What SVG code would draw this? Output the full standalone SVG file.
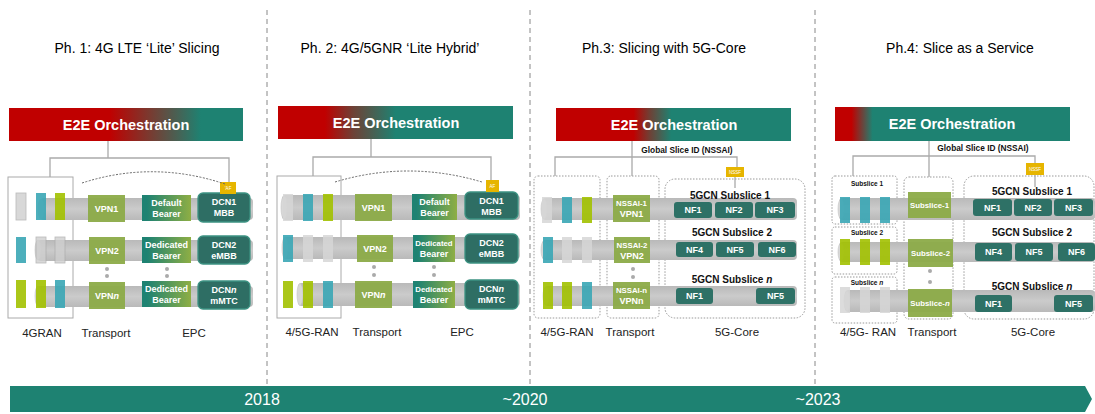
<svg xmlns="http://www.w3.org/2000/svg" width="1095" height="414" viewBox="0 0 1095 414">
<defs>
<linearGradient id="g1" x1="0" x2="1" y1="0" y2="0"><stop offset="0.43" stop-color="#c00000"/><stop offset="0.6" stop-color="#7a3a30"/><stop offset="0.82" stop-color="#1e8272"/></linearGradient>
<linearGradient id="g2" x1="0" x2="1" y1="0" y2="0"><stop offset="0.2" stop-color="#c00000"/><stop offset="0.32" stop-color="#6e4136"/><stop offset="0.5" stop-color="#1e8272"/></linearGradient>
<linearGradient id="g3" x1="0" x2="1" y1="0" y2="0"><stop offset="0.33" stop-color="#c00000"/><stop offset="0.4" stop-color="#6e4136"/><stop offset="0.49" stop-color="#1e8272"/></linearGradient>
<linearGradient id="g4" x1="0" x2="1" y1="0" y2="0"><stop offset="0.07" stop-color="#c00000"/><stop offset="0.16" stop-color="#1e8272"/></linearGradient>
<linearGradient id="bearer" x1="0" x2="1" y1="0" y2="0"><stop offset="0.1" stop-color="#1e8272"/><stop offset="1" stop-color="#8eae44"/></linearGradient>
<linearGradient id="tube" x1="0" x2="0" y1="0" y2="1"><stop offset="0" stop-color="#b9b9b9"/><stop offset="0.5" stop-color="#cbcbcb"/><stop offset="1" stop-color="#b9b9b9"/></linearGradient>
</defs>
<style>
.sep{stroke:#888;stroke-width:1;stroke-dasharray:5,4;fill:none}
.title{font-family:"Liberation Sans",Arial,sans-serif;font-size:14px;fill:#000;text-anchor:middle}
.e2e{font-family:"Liberation Sans",Arial,sans-serif;font-size:14.5px;font-weight:bold;fill:#fff;text-anchor:middle}
.ln{stroke:#aaa;stroke-width:1.3;fill:none}
.box{stroke:#aaa;stroke-width:1;fill:none}
.dbox{stroke:#999;stroke-width:1;stroke-dasharray:1.5,1.5;fill:none}
.arc{stroke:#666;stroke-width:1;stroke-dasharray:2,1.5;fill:none}
.tube{fill:url(#tube)}
.cap{fill:#d8d8d8;stroke:#c4c4c4;stroke-width:0.6}
.rg{fill:#d6d6d6;opacity:0.85}
.rt{fill:#3aa6b5;opacity:0.9}
.rv{fill:#a2c100;opacity:0.9}
.ro{fill:#cfcfcf;stroke:#aaa;stroke-width:0.8;opacity:0.8}
.vpn{fill:#8cab48;opacity:0.95}
.bear{fill:url(#bearer)}
.dcn{fill:#2e6e64;stroke:#3c9282;stroke-width:1.3}
.nf{fill:#2e7166}
.lbl{font-family:"Liberation Sans",Arial,sans-serif;font-size:9px;font-weight:bold;fill:#fff;text-anchor:middle}
.sm{font-size:7.8px}
.blbl{font-family:"Liberation Sans",Arial,sans-serif;font-size:11.5px;fill:#222;text-anchor:middle}
.sub{font-family:"Liberation Sans",Arial,sans-serif;font-size:10px;font-weight:bold;fill:#111;text-anchor:middle}
.gid{font-family:"Liberation Sans",Arial,sans-serif;font-size:8.3px;font-weight:bold;fill:#111;text-anchor:middle}
.ss{font-family:"Liberation Sans",Arial,sans-serif;font-size:6.5px;font-weight:bold;fill:#111;text-anchor:middle}
.af{fill:#e6b500}
.aft{font-family:"Liberation Sans",Arial,sans-serif;font-size:4.5px;fill:#fff;text-anchor:middle}
.dot{fill:#aaa}
.yr{font-family:"Liberation Sans",Arial,sans-serif;font-size:16px;fill:#fff;text-anchor:middle}
</style>

<g id="separators">
<line class="sep" x1="267" y1="10" x2="267" y2="386"/>
<line class="sep" x1="530" y1="10" x2="530" y2="386"/>
<line class="sep" x1="815" y1="10" x2="815" y2="386"/>
</g>

<g id="titles">
<text class="title" x="137" y="53">Ph. 1: 4G LTE ‘Lite’ Slicing</text>
<text class="title" x="390" y="53">Ph. 2: 4G/5GNR ‘Lite Hybrid’</text>
<text class="title" x="664" y="53">Ph.3: Slicing with 5G-Core</text>
<text class="title" x="960" y="53">Ph.4: Slice as a Service</text>
</g>

<!-- Phase 1 -->
<g id="phase1">
<g id="p1-e2e"><rect x="9" y="108" width="234" height="33" fill="url(#g1)"/><text class="e2e" x="126" y="130">E2E Orchestration</text></g>
<g id="p1-ran"><rect class="box" x="8" y="177" width="65" height="141"/></g>
<g id="p1-tubes">
<rect class="tube" x="40" y="198" width="213" height="22" rx="4"/><ellipse class="cap" cx="41" cy="209" rx="3" ry="10"/>
<rect class="tube" x="37" y="240" width="216" height="21" rx="4"/><ellipse class="cap" cx="38" cy="250" rx="3" ry="10"/>
<rect class="tube" x="37" y="286" width="216" height="21" rx="4"/><ellipse class="cap" cx="38" cy="296" rx="3" ry="10"/>
</g>
<g id="p1-ranitems">
<rect class="ro" x="16" y="193" width="10" height="27"/><rect class="rt" x="36" y="193" width="10" height="27"/><rect class="rv" x="55" y="193" width="10" height="27"/>
<rect class="rt" x="16" y="237" width="10" height="26"/><rect class="ro" x="36" y="237" width="10" height="26"/><rect class="ro" x="55" y="237" width="10" height="26"/>
<rect class="rv" x="16" y="280" width="10" height="28"/><rect class="rv" x="36" y="280" width="10" height="28"/><rect class="rt" x="55" y="280" width="10" height="28"/>
</g>
<g id="p1-vpn1"><rect class="vpn" x="88" y="195" width="37" height="27"/><text class="lbl" x="106.5" y="211.5">VPN1</text></g>
<g id="p1-vpn2"><rect class="vpn" x="89" y="237" width="36" height="27"/><text class="lbl" x="107" y="253.5">VPN2</text></g>
<g id="p1-vpnn"><rect class="vpn" x="89" y="282" width="36" height="27"/><text class="lbl" x="107" y="298.5">VPN<tspan font-style="italic">n</tspan></text></g>
<g id="p1-bear1"><rect class="bear" x="142" y="195" width="49" height="26"/><text class="lbl" x="166.5" y="206">Default</text><text class="lbl" x="166.5" y="216.5">Bearer</text></g>
<g id="p1-bear2"><rect class="bear" x="142" y="237" width="49" height="26"/><text class="lbl" x="166.5" y="248">Dedicated</text><text class="lbl" x="166.5" y="258.5">Bearer</text></g>
<g id="p1-bear3"><rect class="bear" x="142" y="281" width="49" height="26"/><text class="lbl" x="166.5" y="292">Dedicated</text><text class="lbl" x="166.5" y="302.5">Bearer</text></g>
<g id="p1-dcn1"><rect class="dcn" x="198" y="193" width="52" height="29" rx="5"/><text class="lbl" x="224" y="205">DCN1</text><text class="lbl" x="224" y="216">MBB</text></g>
<g id="p1-dcn2"><rect class="dcn" x="198" y="236" width="52" height="28" rx="5"/><text class="lbl" x="224" y="248">DCN2</text><text class="lbl" x="224" y="259">eMBB</text></g>
<g id="p1-dcn3"><rect class="dcn" x="198" y="281" width="52" height="28" rx="5"/><text class="lbl" x="224" y="293">DCN<tspan font-style="italic">n</tspan></text><text class="lbl" x="224" y="304">mMTC</text></g>
<g id="p1-af"><rect class="af" x="220" y="182" width="16" height="12"/><text class="aft" x="228" y="189.5">’AF</text></g>
<g id="p1-dots"><circle class="dot" cx="107" cy="269" r="2"/><circle class="dot" cx="107" cy="276" r="2"/><circle class="dot" cx="167" cy="269" r="2"/><circle class="dot" cx="167" cy="276" r="2"/></g>
<text class="blbl" x="42" y="337">4GRAN</text><text class="blbl" x="106" y="337">Transport</text><text class="blbl" x="194" y="337">EPC</text>
</g>

<!-- Phase 2 -->
<g id="phase2">
<g id="p2-e2e"><rect x="278" y="106" width="235" height="33" fill="url(#g2)"/><text class="e2e" x="396" y="128">E2E Orchestration</text></g>
<g id="p2-ran"><rect class="box" x="277" y="176" width="64" height="142"/></g>
<g id="p2-tubes">
<rect class="tube" x="282" y="195" width="238" height="25" rx="4"/><ellipse class="cap" cx="284" cy="207.5" rx="3" ry="11.5"/>
<rect class="tube" x="283" y="237" width="237" height="22" rx="4"/><ellipse class="cap" cx="285" cy="248" rx="3" ry="10.5"/>
<rect class="tube" x="298" y="283" width="222" height="23" rx="4"/><ellipse class="cap" cx="300" cy="294.5" rx="3" ry="11"/>
</g>
<g id="p2-ranitems">
<rect class="rg" x="283" y="194" width="10" height="27"/><rect class="rt" x="303" y="194" width="10" height="27"/><rect class="rv" x="323" y="194" width="10" height="27"/>
<rect class="rt" x="283" y="235" width="10" height="27"/><rect class="rg" x="303" y="235" width="10" height="27"/><rect class="rg" x="323" y="235" width="10" height="27"/>
<rect class="rv" x="283" y="281" width="10" height="27"/><rect class="rv" x="303" y="281" width="10" height="27"/><rect class="rt" x="323" y="281" width="10" height="27"/>
</g>
<g id="p2-vpn1"><rect class="vpn" x="355" y="194" width="37" height="27"/><text class="lbl" x="373.5" y="210.5">VPN1</text></g>
<g id="p2-vpn2"><rect class="vpn" x="357" y="235" width="36" height="27"/><text class="lbl" x="375" y="251.5">VPN2</text></g>
<g id="p2-vpnn"><rect class="vpn" x="355" y="281" width="37" height="27"/><text class="lbl" x="373.5" y="297.5">VPN<tspan font-style="italic">n</tspan></text></g>
<g id="p2-bear1"><rect class="bear" x="412" y="194" width="45" height="26"/><text class="lbl" x="434.5" y="205">Default</text><text class="lbl" x="434.5" y="215.5">Bearer</text></g>
<g id="p2-bear2"><rect class="bear" x="413" y="235" width="42" height="27"/><text class="lbl sm" x="434" y="246">Dedicated</text><text class="lbl" x="434" y="256.5">Bearer</text></g>
<g id="p2-bear3"><rect class="bear" x="413" y="281" width="42" height="27"/><text class="lbl sm" x="434" y="292">Dedicated</text><text class="lbl" x="434" y="302.5">Bearer</text></g>
<g id="p2-dcn1"><rect class="dcn" x="465" y="192" width="53" height="27" rx="5"/><text class="lbl" x="491.5" y="203.5">DCN1</text><text class="lbl" x="491.5" y="214.5">MBB</text></g>
<g id="p2-dcn2"><rect class="dcn" x="465" y="234" width="53" height="29" rx="5"/><text class="lbl" x="491.5" y="246">DCN2</text><text class="lbl" x="491.5" y="257">eMBB</text></g>
<g id="p2-dcn3"><rect class="dcn" x="465" y="280" width="53" height="29" rx="5"/><text class="lbl" x="491.5" y="292">DCN<tspan font-style="italic">n</tspan></text><text class="lbl" x="491.5" y="303">mMTC</text></g>
<g id="p2-af"><rect class="af" x="486" y="180" width="13" height="12"/><text class="aft" x="492.5" y="187.5">AF</text></g>
<g id="p2-dots"><circle class="dot" cx="374" cy="267" r="2"/><circle class="dot" cx="374" cy="275" r="2"/><circle class="dot" cx="434" cy="267" r="2"/><circle class="dot" cx="434" cy="275" r="2"/></g>
<text class="blbl" x="312" y="336">4/5G-RAN</text><text class="blbl" x="377" y="336">Transport</text><text class="blbl" x="462" y="336">EPC</text>
</g>

<!-- Phase 3 -->
<g id="phase3">
<g id="p3-e2e"><rect x="556" y="108" width="235" height="33" fill="url(#g3)"/><text class="e2e" x="674" y="130">E2E Orchestration</text></g>
<text class="gid" x="687" y="152.5">Global Slice ID (NSSAI)</text>
<g id="p3-boxes">
<rect class="dbox" x="534" y="176" width="66" height="142" rx="4"/>
<rect class="dbox" x="607" y="176" width="52" height="142" rx="4"/>
<rect class="dbox" x="665" y="179" width="140" height="139" rx="10"/>
</g>
<g id="p3-tubes">
<rect class="tube" x="542" y="198" width="255" height="22" rx="4"/><ellipse class="cap" cx="544" cy="209" rx="3" ry="10"/>
<rect class="tube" x="542" y="240" width="255" height="20" rx="4"/><ellipse class="cap" cx="544" cy="250" rx="3" ry="9"/>
<rect class="tube" x="544" y="286" width="253" height="20" rx="4"/><ellipse class="cap" cx="546" cy="296" rx="3" ry="9"/>
</g>
<g id="p3-ranitems">
<rect class="rg" x="542" y="197" width="10" height="26"/><rect class="rt" x="562" y="197" width="10" height="26"/><rect class="rv" x="582" y="197" width="10" height="26"/>
<rect class="rt" x="543" y="237" width="10" height="26"/><rect class="rg" x="562" y="237" width="10" height="26"/><rect class="rg" x="582" y="237" width="10" height="26"/>
<rect class="rv" x="543" y="282" width="10" height="27"/><rect class="rv" x="562" y="282" width="10" height="27"/><rect class="rt" x="582" y="282" width="10" height="27"/>
</g>
<g id="p3-vpn1"><rect class="vpn" x="613" y="195" width="37" height="27"/><text class="lbl sm" x="631.5" y="206">NSSAI-1</text><text class="lbl" x="631.5" y="216.5">VPN1</text></g>
<g id="p3-vpn2"><rect class="vpn" x="614" y="237" width="36" height="26"/><text class="lbl sm" x="632" y="248">NSSAI-2</text><text class="lbl" x="632" y="258.5">VPN2</text></g>
<g id="p3-vpnn"><rect class="vpn" x="613" y="282" width="37" height="27"/><text class="lbl sm" x="631.5" y="293">NSSAI-n</text><text class="lbl" x="631.5" y="303.5">VPNn</text></g>
<g id="p3-dots"><circle class="dot" cx="633" cy="269" r="2"/><circle class="dot" cx="633" cy="277" r="2"/></g>
<text class="sub" x="730" y="199">5GCN Subslice 1</text>
<text class="sub" x="732" y="236">5GCN Subslice 2</text>
<text class="sub" x="732" y="283">5GCN Subslice <tspan font-style="italic">n</tspan></text>
<g id="p3-nf-r1"><rect class="nf" x="674" y="202" width="38" height="16" rx="3"/><text class="lbl" x="693" y="213">NF1</text><rect class="nf" x="715" y="202" width="38" height="16" rx="3"/><text class="lbl" x="734" y="213">NF2</text><rect class="nf" x="755" y="202" width="40" height="16" rx="3"/><text class="lbl" x="775" y="213">NF3</text></g>
<g id="p3-nf-r2"><rect class="nf" x="676" y="242" width="37" height="15" rx="3"/><text class="lbl" x="694.5" y="252.5">NF4</text><rect class="nf" x="716" y="242" width="38" height="15" rx="3"/><text class="lbl" x="735" y="252.5">NF5</text><rect class="nf" x="758" y="242" width="38" height="15" rx="3"/><text class="lbl" x="777" y="252.5">NF6</text></g>
<g id="p3-nf-r3"><rect class="nf" x="676" y="288" width="37" height="16" rx="3"/><text class="lbl" x="694.5" y="299">NF1</text><rect class="nf" x="756" y="288" width="39" height="16" rx="3"/><text class="lbl" x="775.5" y="299">NF5</text></g>
<g id="p3-nssf"><rect class="af" x="726" y="167" width="18" height="10"/><text class="aft" x="735" y="173.5">NSSF</text></g>
<text class="blbl" x="567" y="336">4/5G-RAN</text><text class="blbl" x="630" y="336">Transport</text><text class="blbl" x="737" y="336">5G-Core</text>
</g>

<!-- Phase 4 -->
<g id="phase4">
<g id="p4-e2e"><rect x="835" y="107" width="235" height="34" fill="url(#g4)"/><text class="e2e" x="952" y="129">E2E Orchestration</text></g>
<text class="gid" x="983" y="150.5">Global Slice ID (NSSAI)</text>
<g id="p4-boxes">
<rect class="dbox" x="832" y="176" width="65" height="48" rx="3"/>
<rect class="dbox" x="832" y="227" width="65" height="47" rx="3"/>
<rect class="dbox" x="832" y="277" width="65" height="46" rx="3"/>
<rect class="dbox" x="904" y="177" width="49" height="142" rx="5"/>
<rect class="dbox" x="964" y="176" width="130" height="143" rx="10"/>
</g>
<text class="ss" x="867" y="185.5">Subslice 1</text>
<text class="ss" x="867" y="234.5">Subslice 2</text>
<text class="ss" x="867" y="284.5">Subslice <tspan font-style="italic">n</tspan></text>
<g id="p4-tubes">
<rect class="tube" x="839" y="198" width="256" height="22" rx="4"/><ellipse class="cap" cx="841" cy="209" rx="3" ry="10"/>
<rect class="tube" x="839" y="242" width="256" height="20" rx="4"/><ellipse class="cap" cx="841" cy="252" rx="3" ry="9"/>
<rect class="tube" x="845" y="290" width="250" height="22" rx="4"/><ellipse class="cap" cx="847" cy="301" rx="3" ry="10"/>
</g>
<g id="p4-ranitems">
<rect class="rt" x="840" y="197" width="10" height="26"/><rect class="rt" x="860" y="197" width="10" height="26"/><rect class="rt" x="880" y="197" width="10" height="26"/>
<rect class="rv" x="840" y="239" width="10" height="26"/><rect class="rv" x="860" y="239" width="10" height="26"/><rect class="rv" x="880" y="239" width="10" height="26"/>
<rect class="rg" x="840" y="287" width="10" height="26"/><rect class="rg" x="860" y="287" width="10" height="26"/><rect class="rg" x="880" y="287" width="10" height="26"/>
</g>
<g id="p4-ss1"><rect class="vpn" x="908" y="192" width="43" height="26"/><text class="lbl sm" x="929.5" y="208">Subslice-1</text></g>
<g id="p4-ss2"><rect class="vpn" x="908" y="239" width="45" height="28"/><text class="lbl sm" x="930.5" y="256">Subslice-2</text></g>
<g id="p4-ssn"><rect class="vpn" x="908" y="289" width="44" height="28"/><text class="lbl sm" x="930" y="306">Subslice-<tspan font-style="italic">n</tspan></text></g>
<g id="p4-dots"><circle class="dot" cx="930" cy="271" r="2"/><circle class="dot" cx="930" cy="282" r="2"/></g>
<text class="sub" x="1032" y="195">5GCN Subslice 1</text>
<text class="sub" x="1032" y="236">5GCN Subslice 2</text>
<text class="sub" x="1032" y="290">5GCN Subslice <tspan font-style="italic">n</tspan></text>
<g id="p4-nf-r1"><rect class="nf" x="973" y="199" width="39" height="17" rx="3"/><text class="lbl" x="992.5" y="210.5">NF1</text><rect class="nf" x="1014" y="199" width="38" height="17" rx="3"/><text class="lbl" x="1033" y="210.5">NF2</text><rect class="nf" x="1054" y="199" width="39" height="17" rx="3"/><text class="lbl" x="1073.5" y="210.5">NF3</text></g>
<g id="p4-nf-r2"><rect class="nf" x="975" y="243" width="37" height="18" rx="3"/><text class="lbl" x="993.5" y="255">NF4</text><rect class="nf" x="1015" y="243" width="38" height="18" rx="3"/><text class="lbl" x="1034" y="255">NF5</text><rect class="nf" x="1058" y="243" width="37" height="18" rx="3"/><text class="lbl" x="1076.5" y="255">NF6</text></g>
<g id="p4-nf-r3"><rect class="nf" x="975" y="295" width="37" height="17" rx="3"/><text class="lbl" x="993.5" y="306.5">NF1</text><rect class="nf" x="1054" y="295" width="39" height="17" rx="3"/><text class="lbl" x="1073.5" y="306.5">NF5</text></g>
<g id="p4-nssf"><rect class="af" x="1026" y="163" width="18" height="12"/><text class="aft" x="1035" y="170.5">NSSF</text></g>
<text class="blbl" x="868" y="336">4/5G- RAN</text><text class="blbl" x="932" y="336">Transport</text><text class="blbl" x="1033" y="336">5G-Core</text>
</g>

<g id="connectors">
<path class="ln" d="M108 141V158M50 177V158H229V182"/>
<path class="arc" d="M82 183Q153 160 225 184"/>
<path class="ln" d="M371 139V157M313 176V157H491V180"/>
<path class="arc" d="M335 182Q408 160 482 182"/>
<path class="ln" d="M632 141V176M555 176V157H737V167M735 177V188"/>
<path class="ln" d="M929 141V177M853 176V156H1035V163M1035 175V187"/>
</g>

<g id="timeline">
<polygon points="10,386 1085,386 1092,399 1085,412 10,412" fill="#1e8272"/>
<text class="yr" x="262" y="405">2018</text>
<text class="yr" x="525" y="405">~2020</text>
<text class="yr" x="818" y="405">~2023</text>
</g>
</svg>
